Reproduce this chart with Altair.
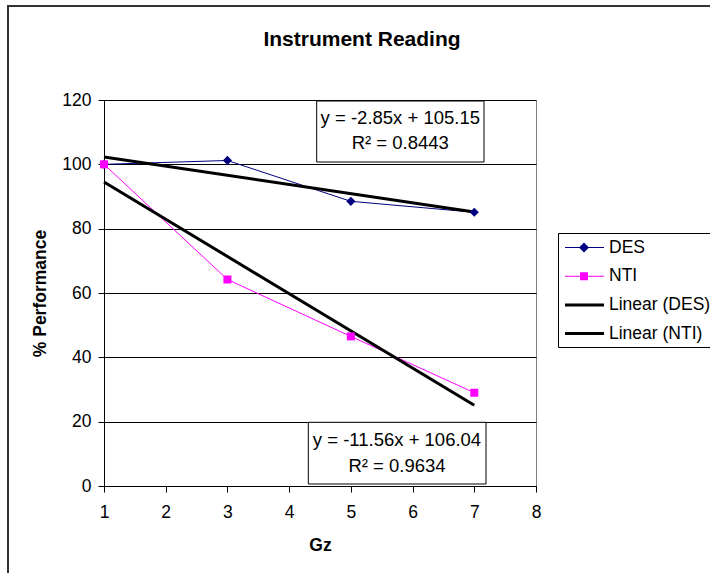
import altair as alt
import pandas as pd

# Measured performance at each Gz level
gz = [1, 3, 5, 7]
des = [100.0, 101.2, 88.5, 85.1]
nti = [100.0, 64.2, 46.5, 29.0]

# Linear trendlines: slope, intercept and R² for each series
trend_series = ["Linear (DES)", "Linear (NTI)"]
trend_slope = [-2.85, -11.56]
trend_intercept = [105.15, 106.04]
trend_r2 = [0.8443, 0.9634]

legend_order = ["DES", "NTI", "Linear (DES)", "Linear (NTI)"]
x_ticks = [1, 2, 3, 4, 5, 6, 7, 8]
y_ticks = [0, 20, 40, 60, 80, 100, 120]

FONT = "Liberation Sans, Arial, sans-serif"
W, H = 432, 386
NAVY = "#000080"
MAGENTA = "#FF00FF"

des_df = pd.DataFrame({"gz": gz, "val": des})
nti_df = pd.DataFrame({"gz": gz, "val": nti})
trend_df = pd.DataFrame(
    [
        {"series": s, "gz": x, "val": m * x + b}
        for s, m, b in zip(trend_series, trend_slope, trend_intercept)
        for x in (gz[0], gz[-1])
    ]
)
eq_lines = [
    [f"y = {m:.2f}x + {b:.2f}", f"R\u00b2 = {r:.4f}"]
    for m, b, r in zip(trend_slope, trend_intercept, trend_r2)
]

x_axis = alt.Axis(
    values=x_ticks, title="Gz", grid=False, tickSize=6, tickColor="black",
    domainColor="black", labelFont=FONT, labelFontSize=17.5, labelColor="black",
    labelPadding=11, labelFlush=False, labelOverlap=False,
    titleFont=FONT, titleFontSize=17.5, titleFontWeight="bold",
    titleColor="black", titleX=W / 2, titleY=64.5, titleBaseline="alphabetic",
    titleAlign="center",
)
y_axis = alt.Axis(
    values=y_ticks, title="% Performance", grid=True, gridColor="black",
    gridWidth=1, tickSize=6, tickColor="black", domainColor="black",
    labelFont=FONT, labelFontSize=17.5, labelColor="black", labelPadding=7,
    labelFlush=False, labelOverlap=False,
    titleFont=FONT, titleFontSize=17.5, titleFontWeight="bold",
    titleColor="black", titleAngle=270, titleX=-64, titleY=H / 2,
    titleBaseline="middle", titleAlign="center",
)
X = alt.X("gz:Q", scale=alt.Scale(domain=[1, 8], nice=False, zero=False), axis=x_axis)
Y = alt.Y("val:Q", scale=alt.Scale(domain=[0, 120], nice=False), axis=y_axis)

# Outer chart frame
frame = alt.Chart(pd.DataFrame({"k": [0]})).mark_rect(
    fillOpacity=0, stroke="#333333", strokeWidth=2
).encode(x=alt.value(-96), x2=alt.value(616), y=alt.value(-94), y2=alt.value(483))

des_line = alt.Chart(des_df).mark_line(color=NAVY, strokeWidth=1).encode(x=X, y=Y)
nti_line = alt.Chart(nti_df).mark_line(color=MAGENTA, strokeWidth=1).encode(x=X, y=Y)
trend = alt.Chart(trend_df).mark_line(color="black", strokeWidth=3).encode(
    x=X, y=Y, detail="series:N"
)
des_pts = alt.Chart(des_df).mark_point(
    shape="diamond", filled=True, size=85, color=NAVY, opacity=1
).encode(x=X, y=Y)
nti_pts = alt.Chart(nti_df).mark_point(
    shape="square", filled=True, size=64, color=MAGENTA, opacity=1
).encode(x=X, y=Y)

# Equation boxes for the two trendlines
def eq_box(lines, x0, x1, y0, y1, cx, base1, base2):
    box = alt.Chart(pd.DataFrame({"k": [0]})).mark_rect(
        fill="white", stroke="black", strokeWidth=1
    ).encode(x=alt.value(x0), x2=alt.value(x1), y=alt.value(y0), y2=alt.value(y1))
    t1 = alt.Chart(pd.DataFrame({"t": [lines[0]]})).mark_text(
        font=FONT, fontSize=18.5, color="black", align="center", baseline="alphabetic"
    ).encode(text="t:N", x=alt.value(cx), y=alt.value(base1))
    t2 = alt.Chart(pd.DataFrame({"t": [lines[1]]})).mark_text(
        font=FONT, fontSize=18.5, color="black", align="center", baseline="alphabetic"
    ).encode(text="t:N", x=alt.value(cx), y=alt.value(base2))
    return [box, t1, t2]

des_eq = eq_box(eq_lines[0], 212.7, 380, 1, 62, 296.3, 24, 49.3)
nti_eq = eq_box(eq_lines[1], 204.3, 382, 322.3, 384, 293, 346, 371.7)

title = alt.Chart(pd.DataFrame({"t": ["Instrument Reading"]})).mark_text(
    font=FONT, fontSize=21, fontWeight="bold", color="black",
    align="center", baseline="alphabetic"
).encode(text="t:N", x=alt.value(258), y=alt.value(-54))

# Legend entries: line-with-marker for the data series, thick bar for trendlines
legend_shapes = [
    "M-0.75,-0.05H3.15V0.05H-0.75Z M1.15,-0.5L1.65,0L1.15,0.5L0.65,0Z",
    "M-0.75,-0.05H3.15V0.05H-0.75Z M0.75,-0.4H1.55V0.4H0.75Z",
    "M-0.75,-0.15H3.15V0.15H-0.75Z",
    "M-0.75,-0.15H3.15V0.15H-0.75Z",
]
legend_layer = alt.Chart(pd.DataFrame({"series": legend_order})).mark_point(
    filled=True, opacity=0, size=400
).encode(
    x=alt.value(0),
    y=alt.value(0),
    color=alt.Color(
        "series:N",
        scale=alt.Scale(domain=legend_order, range=[NAVY, MAGENTA, "black", "black"]),
        legend=alt.Legend(
            title=None, orient="none", legendX=454, legendY=133, padding=4.5,
            strokeColor="black", fillColor="white", labelFont=FONT,
            labelFontSize=17.5, labelColor="black", labelOffset=26.5,
            labelLimit=400, rowPadding=9.7, symbolSize=400, symbolStrokeWidth=0,
            symbolOpacity=1,
        ),
    ),
    shape=alt.Shape(
        "series:N",
        scale=alt.Scale(domain=legend_order, range=legend_shapes),
        legend=None,
    ),
)

chart = alt.layer(
    frame, des_line, nti_line, trend, des_pts, nti_pts,
    *des_eq, *nti_eq, title, legend_layer,
).properties(
    width=W, height=H,
    autosize=alt.AutoSizeParams(type="none"),
    padding={"left": 104, "top": 100, "right": 174, "bottom": 87},
    background="white",
).configure_view(stroke="#808080", strokeWidth=1)

chart.save("out.html", embed_options={"renderer": "svg", "actions": False})
